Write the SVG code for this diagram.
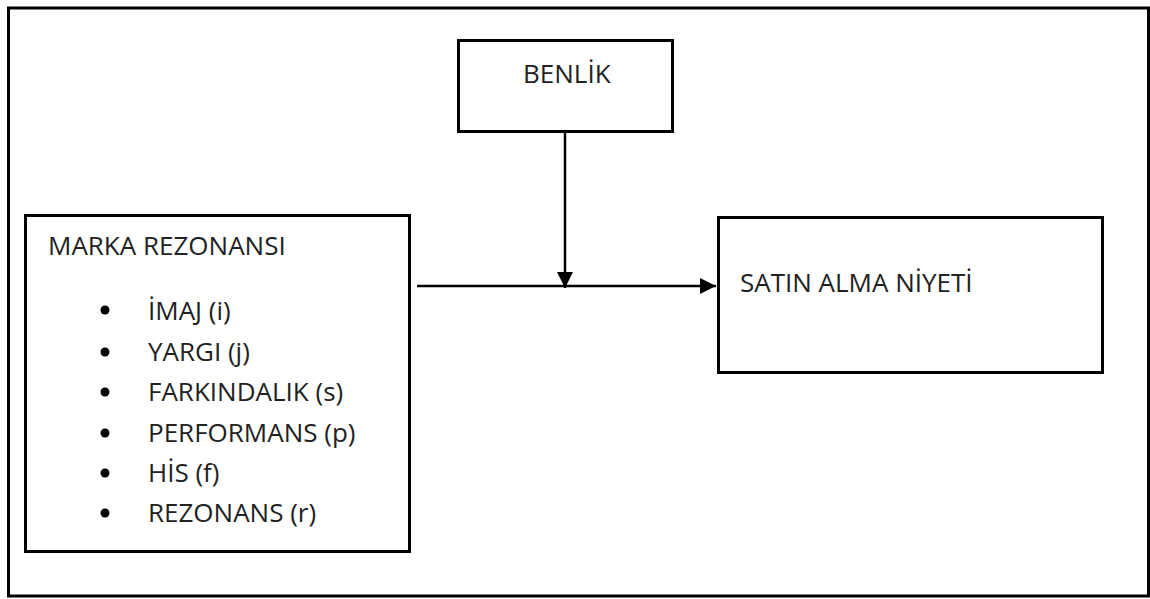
<svg xmlns="http://www.w3.org/2000/svg" width="1150" height="599" viewBox="0 0 1150 599">
  <style>
    .box { fill: #fff; stroke: #000; stroke-width: 3; }
    .lbl { font-family: "Open Sans", "Liberation Sans", sans-serif; font-size: 26px; fill: #222; }
    .edge { stroke: #000; stroke-width: 2.5; fill: none; }
    .dot { fill: #000; }
  </style>
  <defs>
    <marker id="arrow" viewBox="0 0 16 16" refX="16" refY="8" markerWidth="16" markerHeight="16" markerUnits="userSpaceOnUse" orient="auto">
      <path d="M0,0 L16,8 L0,16 Z" fill="#000"/>
    </marker>
  </defs>

  <rect width="1150" height="599" fill="#fff"/>
  <!-- outer frame -->
  <rect x="8.5" y="8" width="1140" height="588" fill="none" stroke="#000" stroke-width="3"/>

  <g id="benlik">
    <rect class="box" x="458.5" y="40.5" width="214" height="91"/>
    <text class="lbl" x="523" y="83">BENLİK</text>
  </g>

  <g id="marka-rezonansi">
    <rect class="box" x="25.5" y="215.5" width="384" height="336"/>
    <text class="lbl" x="48" y="255">MARKA REZONANSI</text>
    <circle class="dot" cx="105" cy="310" r="4.5"/>
    <text class="lbl" x="148" y="320">İMAJ (i)</text>
    <circle class="dot" cx="105" cy="352" r="4.5"/>
    <text class="lbl" x="148" y="361">YARGI (j)</text>
    <circle class="dot" cx="105" cy="392" r="4.5"/>
    <text class="lbl" x="148" y="401">FARKINDALIK (s)</text>
    <circle class="dot" cx="105" cy="433" r="4.5"/>
    <text class="lbl" x="148" y="442">PERFORMANS (p)</text>
    <circle class="dot" cx="105" cy="473" r="4.5"/>
    <text class="lbl" x="148" y="482">HİS (f)</text>
    <circle class="dot" cx="105" cy="513" r="4.5"/>
    <text class="lbl" x="148" y="522">REZONANS (r)</text>
  </g>

  <g id="satin-alma-niyeti">
    <rect class="box" x="718.5" y="217.5" width="384" height="155"/>
    <text class="lbl" x="740" y="292">SATIN ALMA NİYETİ</text>
  </g>

  <g id="connectors">
    <line class="edge" x1="565" y1="132" x2="565" y2="288" marker-end="url(#arrow)"/>
    <line class="edge" x1="417" y1="286" x2="716" y2="286" marker-end="url(#arrow)"/>
  </g>
</svg>
